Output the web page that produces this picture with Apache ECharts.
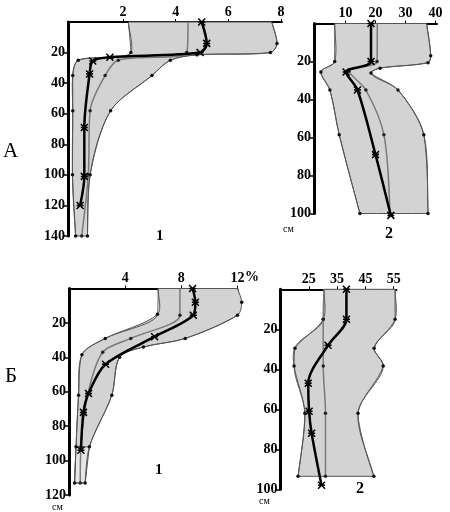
<!DOCTYPE html>
<html>
<head>
<meta charset="utf-8">
<script src="https://cdn.jsdelivr.net/npm/echarts@6/dist/echarts.min.js"></script>
<style>
  html, body { margin: 0; padding: 0; background: #fff; }
  #chart { width: 450px; height: 512px; }
</style>
</head>
<body>
<div id="chart"></div>
<script>
// A, panel 1 (depth, cm / value)
const a1MinDepth = [0, 20, 23, 25, 35, 58, 100, 140];
const a1Min = [2.2, 2.3, 1.6, 0.3, 0.09, 0.09, 0.08, 0.2];
const a1MaxDepth = [0, 14, 20, 21.5, 25, 35, 58, 100, 140];
const a1Max = [7.65, 7.85, 7.6, 4.8, 3.8, 3.1, 1.53, 0.75, 0.65];
const a1MidDepth = [0, 20, 25, 35, 58, 100, 140];
const a1Mid = [4.47, 4.42, 1.82, 1.32, 0.75, 0.68, 0.43];
const a1AvgDepth = [0, 14, 20, 23, 25.5, 34, 69, 101, 120];
const a1Avg = [4.99, 5.18, 4.93, 1.5, 0.85, 0.73, 0.53, 0.53, 0.37];

// A, panel 2
const a2MinDepth = [0, 20, 25.5, 35, 58.5, 100];
const a2Min = [6.4, 6.4, 1.8, 4.8, 7.9, 14.8];
const a2MaxDepth = [0, 17, 20.6, 23.5, 26, 35, 58.5, 100];
const a2Max = [37, 38.4, 37.5, 21.5, 18.5, 27.5, 36.1, 37.5];
const a2MidDepth = [0, 20, 25, 35, 58.5, 100];
const a2Mid = [20.6, 20.5, 11.2, 16.8, 22.8, 24.8];
const a2AvgDepth = [0, 20, 25.5, 35, 69, 101];
const a2Avg = [18.5, 18.5, 10.2, 14.0, 20.0, 25.1];

// Б, panel 1
const b1MinDepth = [0, 15, 29, 38.5, 62, 92, 113];
const b1Min = [6.35, 6.3, 2.58, 0.92, 0.68, 0.5, 0.4];
const b1MaxDepth = [0, 8, 15.5, 29, 34, 40, 62, 92, 113];
const b1Max = [12.0, 12.3, 12.0, 8.28, 5.3, 3.6, 3.05, 1.45, 1.15];
const b1MidDepth = [0, 15.5, 29, 37, 61, 92, 113];
const b1Mid = [7.9, 7.9, 4.4, 2.4, 1.35, 0.85, 0.8];
const b1AvgDepth = [0, 8, 15.5, 28, 44, 61, 72, 94];
const b1Avg = [8.8, 9.0, 8.85, 6.1, 2.6, 1.39, 1.03, 0.85];

// Б, panel 2
const b2MinDepth = [0, 15, 29.5, 38.3, 62, 93.5];
const b2Min = [30.4, 30.1, 20.1, 19.8, 23.6, 21.2];
const b2MaxDepth = [0, 15, 29.5, 38.3, 62, 93.5];
const b2Max = [55.5, 55.5, 48.1, 51.3, 42.4, 48.0];
const b2MidDepth = [0, 15, 38.3, 62, 93.5];
const b2Mid = [30.4, 30.1, 30.1, 30.9, 30.9];
const b2AvgDepth = [0, 15, 28, 47, 61, 72, 98];
const b2Avg = [38.3, 38.3, 31.8, 24.8, 25.1, 26.0, 29.5];

// tick labels
const a1XTicks = [2, 4, 6, 8];
const a2XTicks = [10, 20, 30, 40];
const b1XTicks = [4, 8, 12];
const b2XTicks = [25, 35, 45, 55];
const a1YTicks = [20, 40, 60, 80, 100, 120, 140];
const a2YTicks = [20, 40, 60, 80, 100];
const b1YTicks = [20, 40, 60, 80, 100, 120];
const b2YTicks = [20, 40, 60, 80, 100];

const FONT = "'Liberation Serif', 'DejaVu Serif', serif";
const FILL = '#d3d3d3';
const SMOOTH = 0.3;

const pts = (vals, depths) => vals.map((v, i) => [v, depths[i]]);

const chart = echarts.init(document.getElementById('chart'));

const grids = [
  { left: 68, top: 22, width: 214, height: 214 },
  { left: 314, top: 23.5, width: 123, height: 190 },
  { left: 69, top: 288.5, width: 168.5, height: 206.5 },
  { left: 280.5, top: 289.3, width: 116, height: 200 }
];

const xRanges = [[-0.09, 8.04], [-0.5, 40.5], [0, 12], [15, 56]];
const yMax = [140, 100, 120, 100];
const xTicks = [a1XTicks, a2XTicks, b1XTicks, b2XTicks];
const yTicks = [a1YTicks, a2YTicks, b1YTicks, b2YTicks];

const xAxis = grids.map((g, i) => ({
  type: 'value',
  gridIndex: i,
  position: 'top',
  min: xRanges[i][0],
  max: xRanges[i][1],
  splitLine: { show: false },
  axisLine: { onZero: false, lineStyle: { color: '#000', width: 2 } },
  axisTick: { show: true, length: 3, customValues: xTicks[i], lineStyle: { color: '#000', width: 1 } },
  axisLabel: {
    customValues: xTicks[i],
    margin: 3,
    color: '#000',
    fontFamily: FONT,
    fontWeight: 'bold',
    fontSize: 14
  }
}));

const yAxis = grids.map((g, i) => ({
  type: 'value',
  gridIndex: i,
  inverse: true,
  min: 0,
  max: yMax[i],
  splitLine: { show: false },
  axisLine: { onZero: false, lineStyle: { color: '#000', width: 3 } },
  axisTick: { show: true, length: 5, customValues: yTicks[i], lineStyle: { color: '#000', width: 1.5 } },
  axisLabel: {
    customValues: yTicks[i],
    margin: 3,
    color: '#000',
    fontFamily: FONT,
    fontWeight: 'bold',
    fontSize: 14
  }
}));

// filled range between min and max profiles, edges smoothed like the lines
function band(idx, minP, maxP, fill, z, smooth) {
  return {
    type: 'custom',
    xAxisIndex: idx,
    yAxisIndex: idx,
    data: [[0, 0]],
    silent: true,
    clip: false,
    z: z || 1,
    renderItem: (params, api) => {
      const a = minP.map(p => api.coord(p));
      const b = maxP.slice().reverse().map(p => api.coord(p));
      // doubled end points keep the corners sharp
      const ring = [a[0]].concat(a, [a[a.length - 1]], [b[0]], b, [b[b.length - 1]]);
      return {
        type: 'polygon',
        shape: { points: ring, smooth: smooth === undefined ? SMOOTH : smooth },
        style: { fill: fill, stroke: '#555', lineWidth: 1 }
      };
    }
  };
}

function line(idx, data, kind) {
  const base = {
    type: 'line',
    xAxisIndex: idx,
    yAxisIndex: idx,
    data: data,
    smooth: SMOOTH,
    clip: false,
    silent: true,
    z: 3
  };
  if (kind === 'edge') {
    return Object.assign(base, {
      symbol: 'circle',
      symbolSize: (v) => v[1] === 0 ? 0 : 3.5,
      lineStyle: { color: '#555', width: 1 },
      itemStyle: { color: '#111' }
    });
  }
  if (kind === 'mid') {
    return Object.assign(base, {
      z: 4,
      symbol: 'circle',
      symbolSize: (v) => v[1] === 0 ? 0 : 3.5,
      lineStyle: { color: '#7a7a7a', width: 1.5 },
      itemStyle: { color: '#222' }
    });
  }
  return Object.assign(base, {
    z: 5,
    symbol: 'path://M0,0L10,10M10,0L0,10M0,5L10,5',
    symbolSize: 7,
    lineStyle: { color: '#000', width: 2.5 },
    itemStyle: { color: 'none', borderColor: '#000', borderWidth: 1.5 }
  });
}

const b1MinP = pts(b1Min, b1MinDepth);
const b1MaxP = pts(b1Max, b1MaxDepth);

const series = [
  band(0, pts(a1Min, a1MinDepth), pts(a1Max, a1MaxDepth), FILL),
  line(0, pts(a1Min, a1MinDepth), 'edge'),
  line(0, pts(a1Max, a1MaxDepth), 'edge'),
  line(0, pts(a1Mid, a1MidDepth), 'mid'),
  line(0, pts(a1Avg, a1AvgDepth), 'avg'),

  band(1, pts(a2Min, a2MinDepth), pts(a2Max, a2MaxDepth), FILL),
  line(1, pts(a2Min, a2MinDepth), 'edge'),
  line(1, pts(a2Max, a2MaxDepth), 'edge'),
  line(1, pts(a2Mid, a2MidDepth), 'mid'),
  line(1, pts(a2Avg, a2AvgDepth), 'avg'),

  band(2, b1MinP, b1MaxP, FILL),
  // lighter lower part below the last measured layer
  band(2, b1MinP.slice(-2), b1MaxP.slice(-2), '#e6e6e6', 2, 0),
  line(2, b1MinP, 'edge'),
  line(2, b1MaxP, 'edge'),
  line(2, pts(b1Mid, b1MidDepth), 'mid'),
  line(2, pts(b1Avg, b1AvgDepth), 'avg'),

  band(3, pts(b2Min, b2MinDepth), pts(b2Max, b2MaxDepth), FILL),
  line(3, pts(b2Min, b2MinDepth), 'edge'),
  line(3, pts(b2Max, b2MaxDepth), 'edge'),
  line(3, pts(b2Mid, b2MidDepth), 'mid'),
  line(3, pts(b2Avg, b2AvgDepth), 'avg')
];

const txt = (left, top, text, size, weight) => ({
  type: 'text',
  left: left,
  top: top,
  silent: true,
  style: { text: text, fill: '#000', font: (weight || 'normal') + ' ' + size + 'px ' + FONT }
});

const option = {
  animation: false,
  backgroundColor: '#fff',
  grid: grids.map(g => Object.assign({ containLabel: false }, g)),
  xAxis: xAxis,
  yAxis: yAxis,
  series: series,
  graphic: [
    txt(3, 141, 'А', 21),
    txt(5, 366, 'Б', 21),
    txt(156, 229, '1', 15, 'bold'),
    txt(385, 226, '2', 16, 'bold'),
    txt(155, 463, '1', 15, 'bold'),
    txt(356, 481, '2', 16, 'bold'),
    txt(245, 270, '%', 14, 'bold'),
    txt(283, 224, 'см', 10),
    txt(52, 502, 'см', 10),
    txt(259, 496, 'см', 10)
  ]
};

chart.setOption(option);
</script>
</body>
</html>
